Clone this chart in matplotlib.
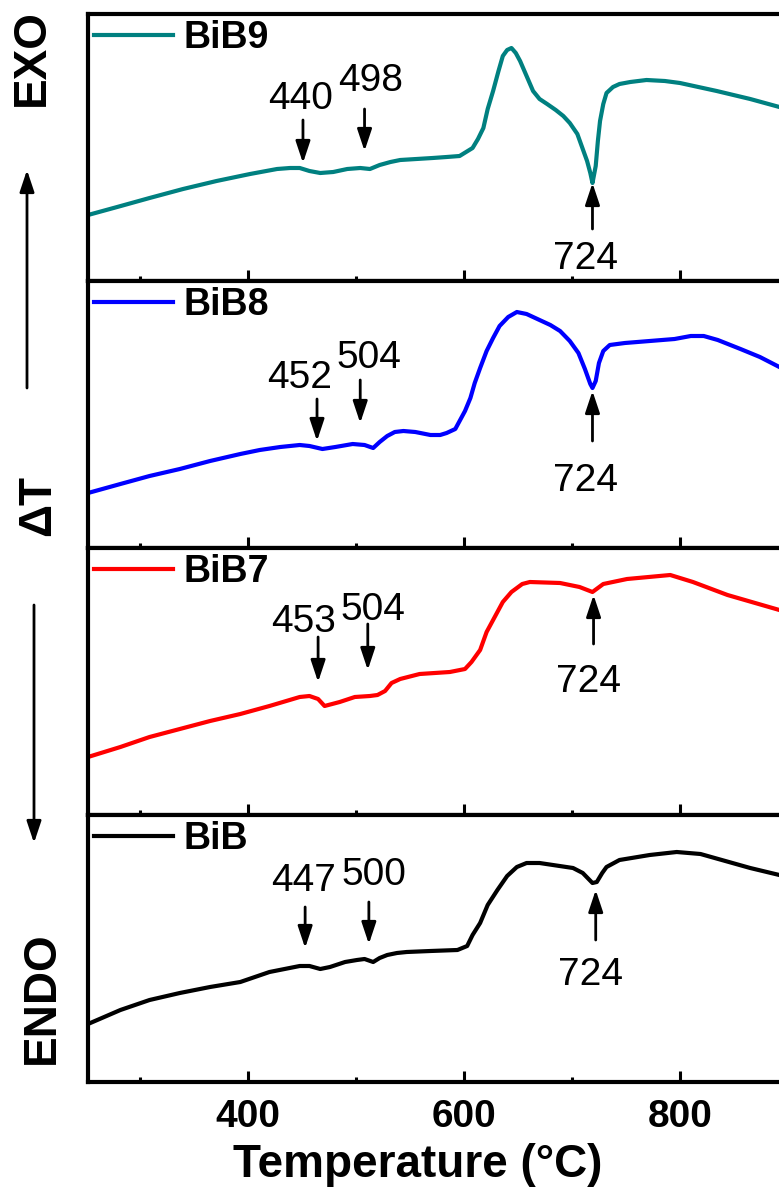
import matplotlib
matplotlib.use("Agg")
import matplotlib.pyplot as plt
from matplotlib.patches import FancyArrowPatch
from matplotlib.ticker import MultipleLocator

plt.rcParams['font.family'] = ['Liberation Sans', 'DejaVu Sans']

# DTA curves (temperature in C, signal in arbitrary units)
t_bib9 = [252, 279, 309, 340, 371, 402, 427, 439, 448, 457, 467, 479, 492, 504, 513, 522,
          532, 541, 571, 584, 596, 608, 613, 618, 622, 627, 632, 636, 640, 644, 648, 652,
          658, 664, 670, 677, 685, 692, 698, 705, 709, 714, 717, 719, 722, 724, 726, 729,
          732, 738, 744, 754, 769, 786, 800, 834, 865, 892, 900]
s_bib9 = [66, 74, 83, 92, 100, 107, 112, 113, 113, 110, 108, 109, 112, 113, 112, 116,
          119, 121, 123, 124, 125, 133, 142, 153, 172, 190, 210, 225, 231, 233, 228, 220,
          205, 190, 182, 177, 171, 165, 158, 147, 135, 120, 108, 98, 115, 140, 160, 177,
          188, 194, 197, 199, 201, 200, 198, 190, 182, 174, 172]

t_bib8 = [252, 282, 309, 337, 365, 393, 411, 430, 448, 457, 469, 481, 497, 508, 516, 522,
          529, 536, 544, 555, 569, 578, 584, 592, 596, 601, 606, 610, 615, 621, 627, 633,
          641, 649, 658, 668, 680, 689, 698, 706, 712, 717, 719, 722, 725, 729, 735, 749,
          772, 795, 810, 822, 835, 856, 874, 892, 900]
s_bib8 = [55, 64, 72, 79, 87, 94, 98, 101, 103, 102, 99, 101, 104, 103, 100, 106,
          112, 116, 117, 116, 113, 113, 115, 119, 127, 137, 150, 165, 180, 197, 210, 222,
          231, 236, 234, 229, 223, 217, 207, 195, 179, 164, 160, 167, 185, 197, 203, 205,
          207, 209, 212, 212, 208, 199, 191, 181, 177]

t_bib7 = [252, 282, 309, 337, 365, 393, 420, 448, 457, 465, 471, 485, 499, 513, 520, 527,
          533, 541, 559, 587, 601, 607, 615, 621, 629, 636, 644, 654, 661, 689, 707, 719,
          729, 751, 791, 812, 844, 892, 900]
s_bib7 = [58, 68, 78, 86, 94, 101, 109, 118, 119, 116, 109, 113, 118, 119, 120, 124,
          132, 136, 141, 143, 146, 153, 165, 183, 199, 213, 223, 231, 233, 232, 228, 223,
          231, 236, 240, 233, 220, 205, 202]

t_bib = [252, 282, 309, 337, 365, 393, 420, 448, 457, 467, 476, 490, 501, 508, 516, 522,
         529, 538, 547, 569, 594, 603, 608, 615, 622, 631, 640, 649, 658, 670, 701, 710,
         719, 723, 728, 732, 744, 772, 797, 819, 865, 892, 900]
s_bib = [58, 72, 82, 89, 95, 100, 110, 116, 116, 113, 115, 120, 122, 123, 120, 124,
         127, 129, 130, 131, 132, 136, 147, 159, 177, 192, 206, 215, 219, 219, 214, 209,
         199, 200, 209, 215, 222, 227, 230, 228, 214, 207, 205]

names = ['BiB9', 'BiB8', 'BiB7', 'BiB']
colors = ['#008080', '#0000ff', '#ff0000', '#000000']
temps = [t_bib9, t_bib8, t_bib7, t_bib]
signals = [s_bib9, s_bib8, s_bib7, s_bib]

# peak labels: (label, text x, text y, arrow x, arrow tail y, arrow tip y)
marks = [
    [('440', 449, 172, 451, 161, 118), ('498', 514, 190, 508, 172, 130), ('724', 713, 12, 719, 52, 98)],
    [('452', 448, 160, 464, 149, 107), ('504', 512, 180, 504, 168, 125), ('724', 713, 57, 719, 107, 157)],
    [('453', 452, 183, 465, 178, 133), ('504', 516, 195, 511, 191, 145), ('724', 715, 123, 720, 171, 220)],
    [('447', 452, 191, 453, 175, 134), ('500', 517, 197, 512, 180, 138), ('724', 717, 97, 722, 142, 192)],
]

W, H = 779, 1198
fig = plt.figure(figsize=(W / 100, H / 100), dpi=100)

left = 88 / W
width = (788 - 88) / W
bottom0 = (H - 1082) / H
ph = 267 / H

arrow_style = dict(arrowstyle='-|>,head_length=0.6,head_width=0.2', color='k', lw=2,
                   mutation_scale=22, shrinkA=0, shrinkB=0)

axes = []
for i in range(4):
    b = bottom0 + (3 - i) * ph
    ax = fig.add_axes([left, b, width, ph], sharex=axes[0] if axes else None)
    axes.append(ax)
    ax.plot(temps[i], signals[i], color=colors[i], lw=3, label=names[i])
    ax.set_xlim(252, 900)
    ax.set_ylim(0, 267)
    ax.set_yticks([])
    for sp in ax.spines.values():
        sp.set_linewidth(3)
    ax.xaxis.set_major_locator(MultipleLocator(200))
    ax.xaxis.set_minor_locator(MultipleLocator(100))
    ax.tick_params(axis='x', which='both', direction='in', top=False, width=2.2,
                   labelbottom=(i == 3), labelsize=28, pad=12)
    ax.tick_params(axis='x', which='major', length=8)
    ax.tick_params(axis='x', which='minor', length=3.5)
    for lab in ax.get_xticklabels():
        lab.set_fontweight('bold')
    ax.legend(loc='upper left', bbox_to_anchor=(-0.013, 1.035), frameon=False,
              handlelength=2.1, handletextpad=0.3, borderaxespad=0.0,
              prop={'weight': 'bold', 'size': 27})
    for lab, tx, ty, axx, y0, y1 in marks[i]:
        ax.text(tx, ty, lab, fontsize=28, ha='center', va='baseline')
        ax.annotate('', xy=(axx, y1), xytext=(axx, y0), arrowprops=arrow_style)

fig.text(418 / W, 1 - 1165 / H, 'Temperature (°C)', fontsize=33, fontweight='bold',
         ha='center', va='center')

fig.text(32 / W, 1 - 58 / H, 'EXO', rotation=90, fontsize=33, fontweight='bold',
         ha='center', va='center')
fig.text(38 / W, 1 - 505 / H, 'ΔT', rotation=90, fontsize=33, fontweight='bold',
         ha='center', va='center')
fig.text(42 / W, 1 - 998 / H, 'ENDO', rotation=90, fontsize=33, fontweight='bold',
         ha='center', va='center')

fig.add_artist(FancyArrowPatch((27 / W, 1 - 388 / H), (27 / W, 1 - 170 / H),
                               transform=fig.transFigure, **arrow_style))
fig.add_artist(FancyArrowPatch((34 / W, 1 - 605 / H), (34 / W, 1 - 843 / H),
                               transform=fig.transFigure, **arrow_style))

fig.savefig('out.png', dpi=100)
